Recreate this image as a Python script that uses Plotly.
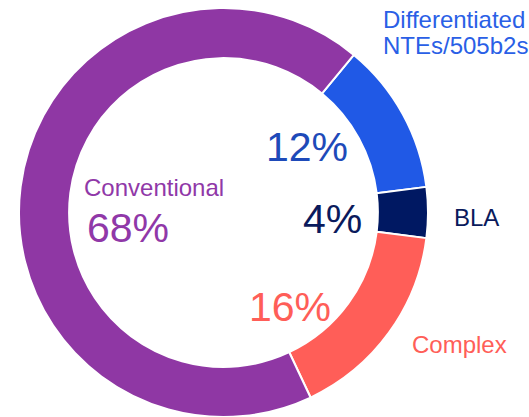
import plotly.graph_objects as go

# Segment shares (percent), clockwise from the first slice
categories = ["Differentiated NTEs/505b2s", "BLA", "Complex", "Conventional"]
values = [12, 4, 16, 68]
slice_colors = ["#2059E6", "#001862", "#FF5E58", "#8F37A4"]
pct_colors = ["#1E4AB9", "#0A1A5C", "#FF5E58", "#9038A8"]
label_colors = ["#2A5FE6", "#0A1A5C", "#FF5E58", "#9038A8"]

W, H = 529, 417
FONT = "Liberation Sans, Arial, Helvetica, sans-serif"

fig = go.Figure(
    go.Pie(
        labels=categories,
        values=values,
        hole=0.755,
        sort=False,
        direction="clockwise",
        rotation=39.6,
        marker=dict(colors=slice_colors, line=dict(color="white", width=2)),
        textinfo="none",
        hoverinfo="label+percent",
        showlegend=False,
        domain=dict(x=[19 / W, 428 / W], y=[0, 409 / H]),
    )
)


def px(x, y):
    """Pixel position (from top-left) to paper coordinates."""
    return x / W, 1 - y / H


annotations = []

# Percentage figures inside the hole
pct_pos = [(307, 146.5), (332, 219.5), (290, 306.5), (128, 228)]
for v, c, (x, y) in zip(values, pct_colors, pct_pos):
    xp, yp = px(x, y)
    annotations.append(dict(
        x=xp, y=yp, xref="paper", yref="paper", text=f"{v}%",
        showarrow=False, xanchor="center", yanchor="middle",
        font=dict(family=FONT, size=41, color=c),
    ))

# Category names
name_lines = [
    ("Differentiated", label_colors[0], 381, 19, "left"),
    ("NTEs/505b2s", label_colors[0], 381, 45, "left"),
    ("BLA", label_colors[1], 452, 217.5, "left"),
    ("Complex", label_colors[2], 410, 344, "left"),
    ("Conventional", label_colors[3], 153.5, 187.5, "center"),
]
for txt, c, x, y, anchor in name_lines:
    xp, yp = px(x, y)
    annotations.append(dict(
        x=xp, y=yp, xref="paper", yref="paper", text=txt,
        showarrow=False, xanchor=anchor, yanchor="middle",
        font=dict(family=FONT, size=24, color=c),
    ))

fig.update_layout(
    width=W,
    height=H,
    margin=dict(l=0, r=0, t=0, b=0),
    paper_bgcolor="white",
    plot_bgcolor="white",
    annotations=annotations,
)

fig.write_html("out.html")
